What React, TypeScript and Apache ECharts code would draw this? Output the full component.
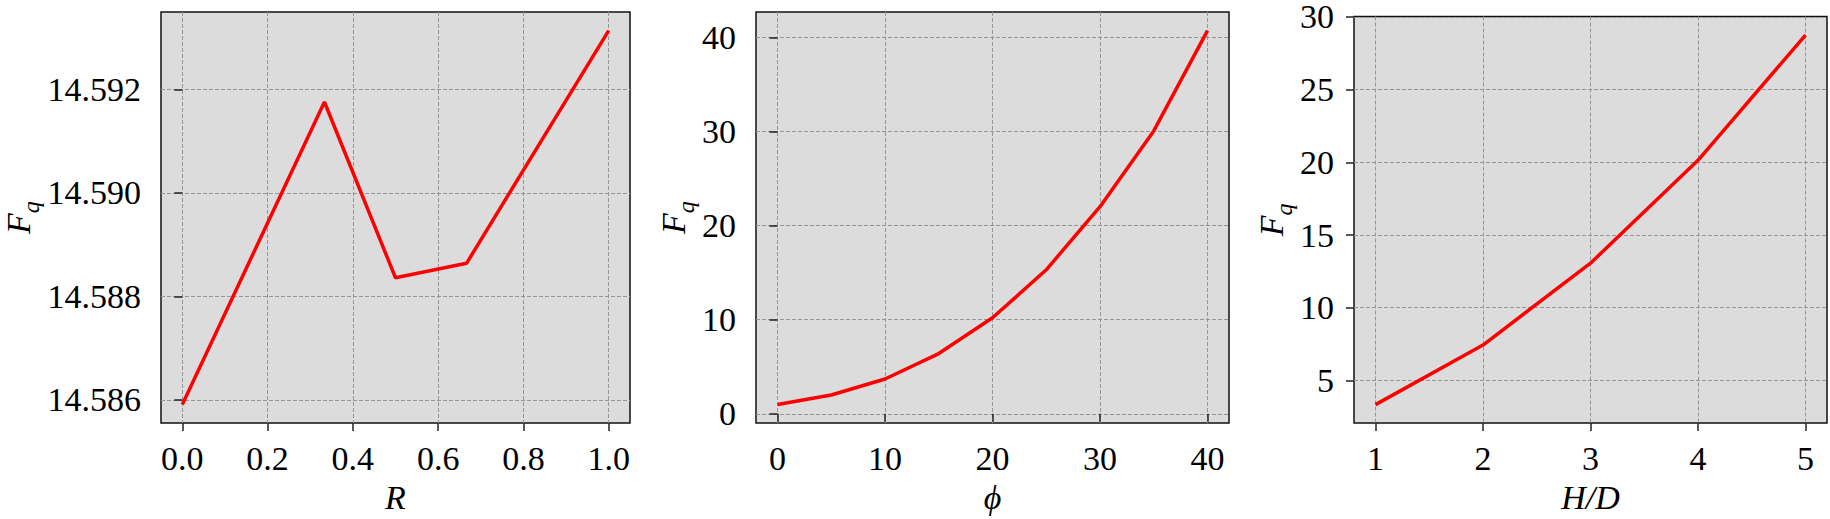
import React, { useEffect, useRef } from "react";
import * as echarts from "echarts";

// ---- data ----
const rValues = [0, 1 / 3, 0.5, 2 / 3, 1.0];
const fqR = [14.58591, 14.59176, 14.58836, 14.58864, 14.59314];
const phiValues = [0, 5, 10, 15, 20, 25, 30, 35, 40];
const fqPhi = [1.0, 2.0, 3.7, 6.4, 10.2, 15.3, 22.0, 30.05, 40.7];
const hdValues = [1, 2, 3, 4, 5];
const fqHD = [3.33, 7.43, 13.06, 20.14, 28.76];

// ---- tick labels ----
const rTicks = [0, 0.2, 0.4, 0.6, 0.8, 1.0];
const fqRTicks = [14.586, 14.588, 14.59, 14.592];
const phiTicks = [0, 10, 20, 30, 40];
const fqPhiTicks = [0, 10, 20, 30, 40];
const hdTicks = [1, 2, 3, 4, 5];
const fqHDTicks = [5, 10, 15, 20, 25, 30];

const FONT = "Liberation Serif";

function padded(arr: number[]) {
  const mn = Math.min(...arr);
  const mx = Math.max(...arr);
  const r = mx - mn;
  return [mn - 0.05 * r, mx + 0.05 * r];
}

export default function App() {
  const ref = useRef<HTMLDivElement>(null);
  useEffect(() => {
    if (!ref.current) return;
    const chart = echarts.init(ref.current, undefined, { renderer: "svg" });

    const panels = [
      { x: rValues, y: fqR, xt: rTicks, yt: fqRTicks, xf: (v: number) => v.toFixed(1), yf: (v: number) => v.toFixed(3), xname: "R", yGap: 118, left: 157 },
      { x: phiValues, y: fqPhi, xt: phiTicks, yt: fqPhiTicks, xf: (v: number) => String(v), yf: (v: number) => String(v), xname: "ϕ", yGap: 51, left: 756 },
      { x: hdValues, y: fqHD, xt: hdTicks, yt: fqHDTicks, xf: (v: number) => String(v), yf: (v: number) => String(v), xname: "H/D", yGap: 51, left: 1354 },
    ];

    const grid: any[] = [];
    const xAxis: any[] = [];
    const yAxis: any[] = [];
    const series: any[] = [];

    const splitLine = { show: true, lineStyle: { color: "#969696", width: 1, type: [4, 2] } };
    const axisTick = (vals: number[]) => ({ show: true, inside: false, length: 8, lineStyle: { color: "#222", width: 1.5 }, customValues: vals });

    panels.forEach((p, i) => {
      grid.push({
        left: p.left,
        top: 12,
        width: 473,
        height: 414,
        show: true,
        backgroundColor: "#dcdcdc",
        borderColor: "#111",
        borderWidth: 1.5,
        containLabel: false,
      });
      const [xmin, xmax] = padded(p.x);
      const [ymin, ymax] = padded(p.y);
      xAxis.push({
        type: "value",
        gridIndex: i,
        min: xmin,
        max: xmax,
        axisLine: { show: false },
        axisTick: axisTick(p.xt),
        axisLabel: { customValues: p.xt, formatter: p.xf, fontFamily: FONT, fontSize: 34, color: "#000", margin: 18 },
        splitLine,
        name: p.xname,
        nameLocation: "middle",
        nameGap: 52,
        nameTextStyle: { fontFamily: FONT, fontSize: 34, fontStyle: "italic", color: "#000" },
      });
      yAxis.push({
        type: "value",
        gridIndex: i,
        min: ymin,
        max: ymax,
        axisLine: { show: false },
        axisTick: axisTick(p.yt),
        axisLabel: { customValues: p.yt, formatter: p.yf, fontFamily: FONT, fontSize: 34, color: "#000", margin: 20 },
        splitLine,
        name: "{i|F}{s|q}",
        nameLocation: "middle",
        nameGap: p.yGap,
        nameRotate: 90,
        nameTextStyle: {
          color: "#000",
          fontFamily: FONT,
          rich: {
            i: { fontFamily: FONT, fontSize: 34, fontStyle: "italic", color: "#000" },
            s: { fontFamily: FONT, fontSize: 24, fontStyle: "italic", color: "#000", padding: [26, 0, 0, 0] },
          },
        },
      });
      series.push({
        type: "line",
        xAxisIndex: i,
        yAxisIndex: i,
        data: p.x.map((xv, k) => [xv, p.y[k]]),
        showSymbol: false,
        symbol: "none",
        lineStyle: { color: "#ff0000", width: 3.5 },
        clip: true,
      });
    });

    chart.setOption({ animation: false, textStyle: { fontFamily: FONT }, grid, xAxis, yAxis, series });
    return () => chart.dispose();
  }, []);

  return <div ref={ref} style={{ position: "fixed", left: 0, top: 0, width: 1830, height: 519, background: "#fff" }} />;
}
